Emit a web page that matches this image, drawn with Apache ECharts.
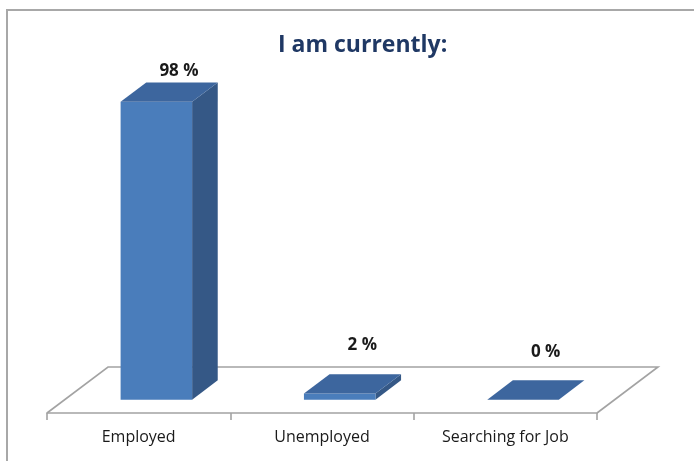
<!DOCTYPE html>
<html>
<head>
<meta charset="utf-8">
<script src="https://cdn.jsdelivr.net/npm/echarts@6/dist/echarts.min.js"></script>
<style>
  html, body { margin: 0; padding: 0; background: #ffffff; }
  #chart { width: 694px; height: 461px; }
</style>
</head>
<body>
<div id="chart"></div>
<script>
// Survey answers: "I am currently:"
const categories = ['Employed', 'Unemployed', 'Searching for Job'];
const shares = [98, 2, 0];
const titleText = 'I am currently:';

// Pseudo-3D geometry (pixels / fractions of the floor)
const FLOOR_DEPTH = [61, -46];      // vector from front edge to back edge of the floor
const BAR_DEPTH = [0.29, 0.71];     // bar front/back as fraction of floor depth
const BAR_WIDTH = 0.39;             // fraction of a category band
const LABEL_GAP = [11, 29, 28];     // label centre distance above each bar's back top edge

const FONT = '"Open Sans", Lato, sans-serif';
const COLORS = { front: '#4a7dbb', top: '#3d669e', side: '#355886', floor: '#a3a3a3' };

const chart = echarts.init(document.getElementById('chart'));

function renderFloor(params, api) {
  const n = categories.length;
  const band = api.size([1, 0])[0];
  const first = api.coord([0, 0]);
  const last = api.coord([n - 1, 0]);
  const xl = first[0] - band / 2, xr = last[0] + band / 2, y = first[1];
  const [dx, dy] = FLOOR_DEPTH;
  return {
    type: 'polyline',
    shape: { points: [[xl, y], [xl + dx, y + dy], [xr + dx, y + dy], [xr, y]] },
    style: { stroke: COLORS.floor, lineWidth: 1.6, fill: null }
  };
}

function renderBar(params, api) {
  const idx = api.value(0);
  const val = api.value(1);
  const base = api.coord([idx, 0]);
  const top = api.coord([idx, val]);
  const band = api.size([1, 0])[0];
  const half = band * BAR_WIDTH / 2;
  const [dx, dy] = FLOOR_DEPTH;
  const fx = dx * BAR_DEPTH[0], fy = dy * BAR_DEPTH[0];
  const bx = dx * BAR_DEPTH[1], by = dy * BAR_DEPTH[1];
  const l = base[0] - half, r = base[0] + half;
  const y0 = base[1], y1 = top[1];
  const children = [];
  // right side face
  children.push({
    type: 'polygon',
    shape: { points: [[r + fx, y0 + fy], [r + bx, y0 + by], [r + bx, y1 + by], [r + fx, y1 + fy]] },
    style: { fill: COLORS.side }
  });
  // front face
  children.push({
    type: 'polygon',
    shape: { points: [[l + fx, y0 + fy], [r + fx, y0 + fy], [r + fx, y1 + fy], [l + fx, y1 + fy]] },
    style: { fill: COLORS.front }
  });
  // top face
  children.push({
    type: 'polygon',
    shape: { points: [[l + fx, y1 + fy], [r + fx, y1 + fy], [r + bx, y1 + by], [l + bx, y1 + by]] },
    style: { fill: COLORS.top }
  });
  // value label
  children.push({
    type: 'text',
    x: base[0] + bx - 3,
    y: y1 + by - LABEL_GAP[params.dataIndex],
    style: {
      text: val + ' %',
      fill: '#1a1a1a',
      font: 'bold 17px ' + FONT,
      align: 'center',
      verticalAlign: 'middle'
    }
  });
  return { type: 'group', children: children };
}

chart.setOption({
  animation: false,
  backgroundColor: '#ffffff',
  title: {
    text: titleText,
    left: 273,
    top: 29,
    textStyle: { color: '#1f3864', fontSize: 23, fontWeight: 'bold', fontFamily: FONT }
  },
  graphic: [{
    type: 'rect',
    shape: { x: 7, y: 10, width: 720, height: 480 },
    style: { fill: null, stroke: '#a8a8a8', lineWidth: 2 },
    silent: true
  }],
  grid: { left: 47, right: 97, top: 109, bottom: 48 },
  xAxis: {
    type: 'category',
    data: categories,
    boundaryGap: true,
    axisLine: { lineStyle: { color: COLORS.floor, width: 1.6 } },
    axisTick: { show: true, length: 7, lineStyle: { color: COLORS.floor, width: 1.6 } },
    axisLabel: { color: '#1a1a1a', fontSize: 16, margin: 16, fontFamily: FONT },
    splitLine: { show: false }
  },
  yAxis: {
    type: 'value',
    min: 0,
    max: 100,
    show: false,
    splitLine: { show: false }
  },
  series: [
    {
      type: 'custom',
      renderItem: renderFloor,
      data: [[0, 0]],
      silent: true,
      z: 1
    },
    {
      type: 'custom',
      renderItem: renderBar,
      data: shares.map((v, i) => [i, v]),
      encode: { x: 0, y: 1 },
      z: 2
    }
  ]
});
</script>
</body>
</html>
